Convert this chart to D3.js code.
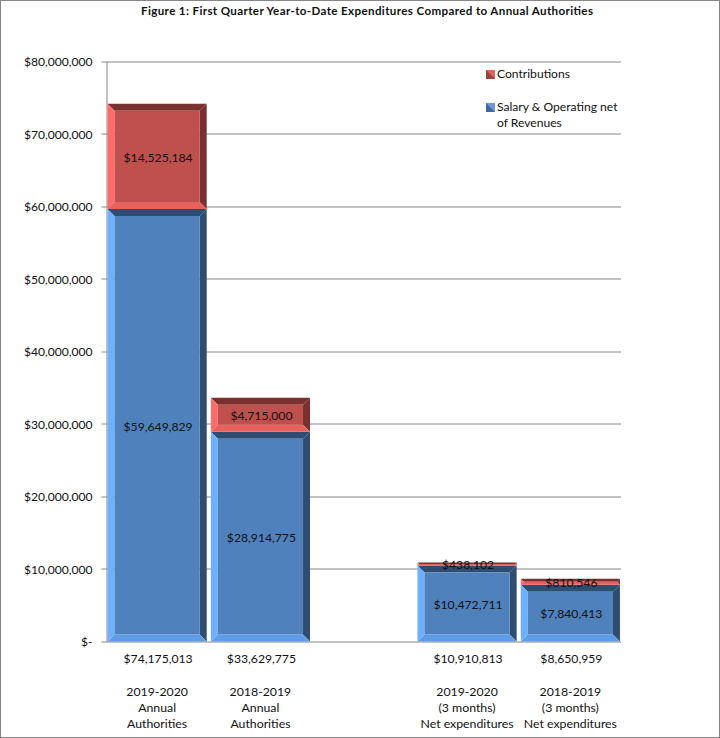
<!DOCTYPE html>
<html><head><meta charset="utf-8">
<script src="https://cdn.jsdelivr.net/npm/d3@7"></script>
<style>html,body{margin:0;padding:0;background:#fff}svg{display:block}text{font-family:Lato,"Open Sans",sans-serif;fill:#111}</style>
</head><body><svg id="c" width="720" height="738"></svg>
<script>
const chartTitle = "Figure 1: First Quarter Year-to-Date Expenditures Compared to Annual Authorities";
const categories = ["A","B","gap","C","D"];
const salary = [59649829,28914775,null,10472711,7840413];
const contributions = [14525184,4715000,null,438102,810546];
const totals = ["$74,175,013","$33,629,775","","$10,910,813","$8,650,959"];
const categoryLines = [["2019-2020","Annual","Authorities"],["2018-2019","Annual","Authorities"],[],["2019-2020","(3 months)","Net expenditures"],["2018-2019","(3 months)","Net expenditures"]];
const yTicks = [0,10e6,20e6,30e6,40e6,50e6,60e6,70e6,80e6];
const seriesNames = ["salary","contributions"];
const legendLines = [["Contributions"],["Salary & Operating net","of Revenues"]];
const palette = {
  salary:{face:"#4F81BD",left:"#6DB0FF",bottom:"#5F9CE6",top:"#2F4D71",right:"#2F4D71",swA:"#3F6A9E",swB:"#6B9BD6"},
  contributions:{face:"#C0504D",left:"#FF6B67",bottom:"#E9615D",top:"#7A302E",right:"#7A302E",swA:"#9C3F3D",swB:"#D86562"}
};
const svg = d3.select("#c");
const W=720,H=738,L=106.5,R=621,T=61.5,B=641.5;
svg.append("rect").attr("x",.5).attr("y",.5).attr("width",W-1).attr("height",H-1).attr("fill","#fff").attr("stroke","#868686");
svg.append("text").attr("x",367).attr("y",15).attr("text-anchor","middle").attr("font-size",11.6).attr("font-weight",700).attr("textLength",452).text(chartTitle);
const x=d3.scaleBand().domain(categories).range([L,R]).paddingInner(0.04).paddingOuter(0.01);
const y=d3.scaleLinear().domain([0,80e6]).range([B,T]);
const fmt=v=>v===0?"$-":"$"+d3.format(",")(v);
const rows=categories.map((c,i)=>({c,salary:salary[i]||0,contributions:contributions[i]||0}));
const stacked=d3.stack().keys(seriesNames)(rows);
svg.append("g").selectAll("line").data(yTicks).join("line")
 .attr("x1",L-5).attr("x2",R).attr("y1",d=>Math.round(y(d))).attr("y2",d=>Math.round(y(d)))
 .attr("stroke","#868686");
const ax=svg.append("g").attr("transform",`translate(${L},0)`).call(d3.axisLeft(y).tickValues(yTicks).tickFormat(fmt).tickSize(0).tickPadding(14));
ax.select(".domain").attr("stroke","#868686");
ax.selectAll("text").attr("font-size",12.1).attr("dy","0.35em");
const g=svg.append("g");
stacked.forEach(s=>{
 const p=palette[s.key];
 s.forEach(d=>{
  const v=d[1]-d[0]; if(!v)return;
  const x0=x(d.data.c),x1=x0+x.bandwidth(),yt=y(d[1]),yb=y(d[0]);
  const b=Math.min(7,(yb-yt)/2);
  const pts=a=>a.map(q=>q.join(",")).join(" ");
  const a=[x0,yt],c=[x1,yt],e=[x1,yb],f=[x0,yb],ia=[x0+b,yt+b],ic=[x1-b,yt+b],ie=[x1-b,yb-b],ifp=[x0+b,yb-b];
  g.append("polygon").attr("points",pts([a,c,ic,ia])).attr("fill",p.top);
  g.append("polygon").attr("points",pts([c,e,ie,ic])).attr("fill",p.right);
  g.append("polygon").attr("points",pts([e,f,ifp,ie])).attr("fill",p.bottom);
  g.append("polygon").attr("points",pts([f,a,ia,ifp])).attr("fill",p.left);
  g.append("polygon").attr("points",pts([ia,ic,ie,ifp])).attr("fill",p.face);
 });
});
stacked.forEach(s=>s.forEach(d=>{
 const v=d[1]-d[0]; if(!v)return;
 svg.append("text").attr("x",x(d.data.c)+x.bandwidth()/2+1).attr("y",y((d[0]+d[1])/2)+1).attr("dy","0.35em")
  .attr("text-anchor","middle").attr("font-size",12.2).text(fmt(v));
}));
categories.forEach((c,i)=>{
 const cx=x(c)+x.bandwidth()/2;
 svg.append("text").attr("x",cx+1).attr("y",659).attr("dy","0.35em").attr("text-anchor","middle").attr("font-size",12.2).text(totals[i]);
 categoryLines[i].forEach((t,j)=>svg.append("text").attr("x",cx).attr("y",691.5+j*16).attr("dy","0.35em").attr("text-anchor","middle").attr("font-size",12.3).text(t));
});
const lg=[["contributions",74],["salary",107]];
lg.forEach(([k,ly],i)=>{
 const p=palette[k],sx=486,sy=ly-4,sz=9;
 svg.append("rect").attr("x",sx).attr("y",sy).attr("width",sz).attr("height",sz).attr("fill",p.swB);
 svg.append("polygon").attr("points",`${sx},${sy} ${sx+sz},${sy+sz} ${sx},${sy+sz}`).attr("fill",p.swA);
 legendLines[i].forEach((t,j)=>svg.append("text").attr("x",497).attr("y",ly+j*16).attr("dy","0.35em").attr("font-size",12.1).text(t));
});
</script></body></html>
